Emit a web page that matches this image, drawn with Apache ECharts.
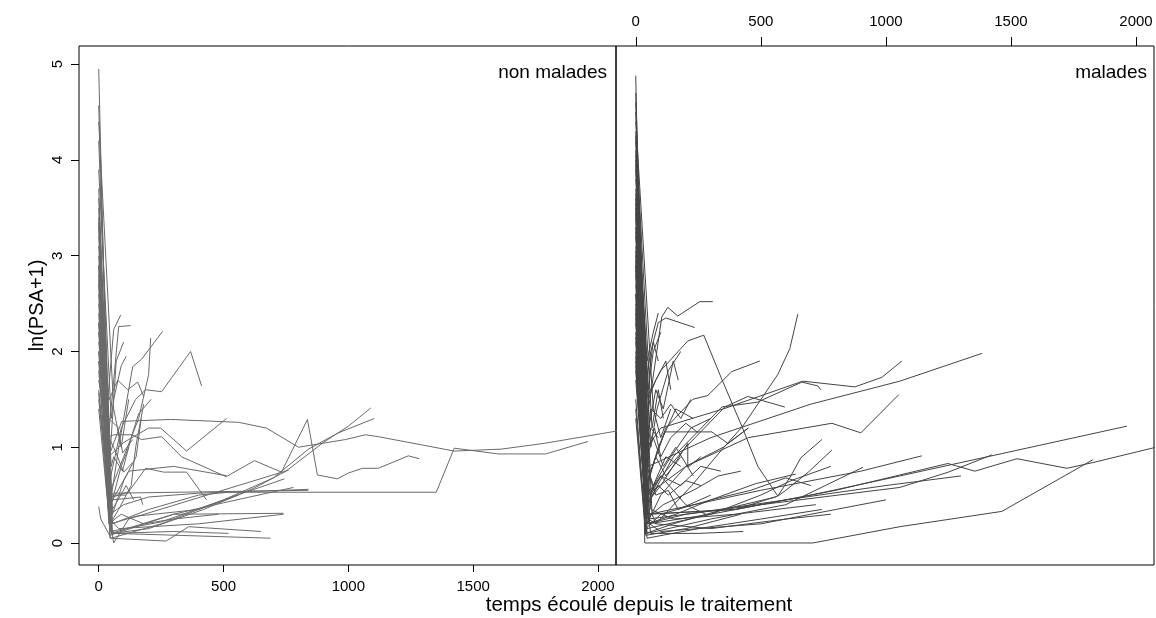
<!DOCTYPE html>
<html>
<head>
<meta charset="utf-8">
<script src="https://cdn.jsdelivr.net/npm/echarts@6/dist/echarts.min.js"></script>
<style>
html,body{margin:0;padding:0;background:#fff;}
#chart{width:1156px;height:618px;}
</style>
</head>
<body>
<div id="chart"></div>
<script>
// ---- data (x = jours depuis le traitement, y = ln(PSA+1)) ----
const panelLabels = ['non malades', 'malades'];
const xTicks = [0, 500, 1000, 1500, 2000];
const yTicks = [0, 1, 2, 3, 4, 5];
const xTitle = 'temps écoulé depuis le traitement';
const yTitle = 'ln(PSA+1)';

// one trajectory per patient, [time, ln(PSA+1)]
const nonMalades = [
  [[0,4.95],[45,0.05],[270,0.02],[360,0.17],[650,0.12]],
  [[0,4.57],[52,0.1],[200,0.15],[420,0.35],[620,0.57],[750,0.75],[900,1.05],[1000,1.22],[1090,1.41]],
  [[0,3.4],[45,0.12],[250,0.22],[500,0.45],[700,0.68],[840,0.98],[960,1.15],[1104,1.30]],
  [[0,3.3],[40,0.9],[92,1.27],[288,1.29],[560,1.26],[672,1.2],[800,1.0],[988,1.08],[1068,1.13],[1120,1.11],[1424,0.96],[1612,0.98],[1784,1.04],[2100,1.18]],
  [[0,3.1],[55,0.2],[200,0.35],[400,0.5],[520,0.53],[1352,0.53],[1424,0.99],[1600,0.93],[1790,0.93],[1960,1.06]],
  [[0,2.9],[40,0.6],[90,1.2],[148,1.5],[188,1.6],[252,1.58],[368,2.0],[412,1.64]],
  [[0,2.7],[45,0.4],[120,0.75],[300,0.8],[516,0.70],[624,0.86],[732,0.74],[836,1.29],[876,0.71],[956,0.67],[1000,0.73],[1056,0.78],[1120,0.78],[1240,0.91],[1284,0.88]],
  [[0,2.5],[40,0.9],[100,1.05],[200,1.2],[248,1.2],[352,0.96],[512,1.30]],
  [[0,2.3],[35,1.1],[60,1.13],[132,1.13],[172,1.08],[252,1.11],[332,0.9],[512,0.69]],
  [[0,2.2],[40,0.5],[110,0.5],[188,0.78],[260,0.74],[352,0.74],[432,0.45]],
  [[0,2.1],[30,1.3],[60,2.23],[88,2.38]],
  [[0,2.0],[35,1.0],[80,2.26],[128,2.27]],
  [[0,1.9],[40,0.3],[80,1.0],[136,1.84],[172,1.92],[256,2.21]],
  [[0,1.8],[40,0.5],[100,0.9],[160,1.3],[200,1.76],[208,2.14]],
  [[0,1.57],[40,0.3],[60,0.0],[120,0.25],[760,0.76]],
  [[0,0.38],[8,0.25],[50,0.05],[250,0.2],[500,0.45],[744,0.67]],
  [[0,3.5],[50,0.1],[300,0.3],[740,0.31]],
  [[0,3.0],[45,0.5],[60,0.52],[840,0.55]],
  [[0,2.8],[45,0.3],[100,0.4],[200,0.48],[400,0.52],[840,0.56]],
  [[0,2.4],[45,0.15],[68,0.1],[688,0.05]],
  [[0,2.6],[45,0.08],[300,0.3],[500,0.42],[780,0.58]],
  [[0,2.2],[40,1.49],[76,1.70],[116,1.60],[156,1.68],[180,1.53]],
  [[0,1.9],[40,1.3],[76,1.21],[96,0.94],[136,1.08]],
  [[0,1.7],[40,1.1],[60,1.0],[100,0.74],[136,0.84]],
  [[0,1.6],[40,0.55],[56,0.48],[116,0.53]],
  [[0,1.5],[45,0.4],[56,0.45],[168,0.48],[176,0.40]],
  [[0,3.6],[45,0.9],[70,1.9],[100,2.1]],
  [[0,3.9],[50,1.3],[60,1.5],[90,1.85],[110,1.95]],
  [[0,4.2],[55,0.3],[100,0.65],[150,0.9],[170,1.3]],
  [[0,2.3],[45,0.2],[80,0.35],[130,0.6],[148,1.0],[180,1.45]],
  [[0,1.4],[40,0.3],[50,0.2],[150,0.28],[400,0.35],[560,0.5]],
  [[0,2.9],[45,0.25],[80,0.15],[400,0.2],[740,0.3]],
  [[0,3.7],[55,0.1],[300,0.12],[520,0.1]],
  [[0,2.0],[45,0.35],[90,0.8],[120,1.0]],
  [[0,3.2],[50,0.8],[60,0.9],[95,0.75],[130,1.1],[160,1.35],[210,1.5]],
  [[0,2.75],[40,0.2],[90,0.3],[180,0.2],[300,0.25],[480,0.3]],
  [[0,3.35],[45,0.6],[55,0.35],[110,0.6],[140,0.45]],
  [[0,4.4],[60,1.4],[90,1.0],[120,1.5]]
];

const malades = [
  [[0,4.88],[36,0.0],[708,0.0],[1056,0.17],[1464,0.33],[1828,0.87]],
  [[0,4.6],[48,0.3],[400,0.35],[800,0.55],[1248,0.83],[1356,0.75],[1524,0.88],[1724,0.78],[1828,0.84],[2080,1.0]],
  [[0,4.3],[50,0.2],[300,0.3],[700,0.5],[1056,0.70],[1964,1.22]],
  [[0,4.0],[50,0.25],[500,0.4],[1056,0.58],[1250,0.74],[1424,0.92]],
  [[0,3.9],[55,0.3],[500,0.55],[900,0.75],[1144,0.91]],
  [[0,3.6],[50,0.8],[300,1.1],[700,1.45],[1056,1.69],[1384,1.98]],
  [[0,3.5],[45,1.0],[100,1.2],[350,1.4],[668,1.69],[876,1.63],[984,1.73],[1064,1.90]],
  [[0,3.4],[45,0.5],[200,0.8],[450,1.1],[784,1.25],[900,1.15],[1052,1.55]],
  [[0,3.3],[50,0.25],[80,0.2],[224,0.6],[288,0.8],[356,1.01],[428,1.22],[488,1.45],[568,1.76],[616,2.03],[648,2.39]],
  [[0,3.2],[40,1.5],[100,1.8],[208,2.11],[272,2.17],[344,1.71],[424,1.22],[488,0.80],[568,0.49],[600,0.55],[690,0.74],[784,0.97]],
  [[0,3.1],[40,1.2],[104,2.36],[128,2.46],[168,2.37],[256,2.52],[308,2.52]],
  [[0,2.9],[30,1.5],[60,2.0],[90,2.3],[120,2.35],[236,2.25]],
  [[0,2.8],[40,0.6],[116,1.16],[304,1.16],[368,1.04],[450,1.2]],
  [[0,2.7],[40,0.6],[120,1.2],[228,1.50],[288,1.54],[384,1.79],[496,1.90]],
  [[0,2.6],[45,0.4],[150,0.9],[344,1.42],[486,1.47],[664,1.68],[728,1.64],[740,1.60]],
  [[0,2.5],[40,0.5],[200,1.0],[356,1.42],[448,1.53],[596,1.42]],
  [[0,2.4],[45,0.1],[300,0.25],[600,0.4],[908,0.79]],
  [[0,2.3],[45,0.2],[200,0.3],[600,0.45],[1000,0.6],[1300,0.7]],
  [[0,2.2],[45,0.15],[300,0.3],[500,0.5],[620,0.65],[780,0.8]],
  [[0,2.1],[45,0.05],[250,0.15],[500,0.25],[744,0.35]],
  [[0,2.0],[40,0.4],[100,0.6],[208,1.04],[208,0.79],[260,0.9]],
  [[0,1.9],[35,0.5],[90,1.0],[160,1.4],[230,1.3]],
  [[0,1.8],[40,0.3],[70,0.6],[140,0.9],[220,1.2],[300,1.3]],
  [[0,1.7],[45,0.2],[100,0.5],[200,0.8],[350,1.0],[450,1.2]],
  [[0,1.5],[40,0.15],[100,0.3],[300,0.45],[480,0.62],[640,0.72]],
  [[0,1.4],[40,0.1],[150,0.2],[350,0.35],[560,0.48]],
  [[0,1.3],[40,0.08],[200,0.15],[420,0.3]],
  [[0,3.8],[45,1.9],[70,2.2],[90,2.4]],
  [[0,3.7],[50,1.5],[80,1.7],[120,1.9],[140,1.6]],
  [[0,3.0],[45,1.0],[60,1.4],[100,1.3],[140,1.45],[180,1.3],[220,1.5]],
  [[0,2.9],[45,0.8],[70,0.6],[120,0.9],[180,0.8]],
  [[0,4.5],[60,0.35],[150,0.25],[400,0.3],[720,0.4]],
  [[0,4.2],[65,0.3],[80,0.2],[300,0.15],[600,0.25],[780,0.3]],
  [[0,4.7],[55,0.2],[100,0.12],[500,0.2],[800,0.35],[1000,0.45]],
  [[0,3.95],[60,1.0],[85,1.4],[130,1.8],[180,2.0]],
  [[0,2.6],[45,0.3],[400,0.35],[568,0.49],[620,0.7],[660,0.89],[744,1.08]],
  [[0,3.25],[45,0.9],[70,1.1],[110,0.8],[160,1.0],[230,0.7]],
  [[0,2.45],[40,0.7],[60,0.5],[100,0.7],[150,0.55],[200,0.4],[280,0.3]],
  [[0,4.1],[55,0.7],[80,0.5],[130,0.55],[170,0.35],[300,0.5]],
  [[0,3.55],[45,0.9],[55,1.8],[70,2.1],[90,1.9]],
  [[0,1.95],[40,0.25],[110,0.4],[230,0.55],[330,0.7],[420,0.75]],
  [[0,2.85],[45,0.2],[160,0.3],[300,0.45],[460,0.55],[600,0.68],[700,0.6]],
  [[0,3.45],[45,0.35],[60,0.1],[250,0.1],[430,0.12]],
  [[0,4.4],[70,1.4],[100,1.1],[140,1.4]],
  [[0,4.25],[65,1.2],[90,1.6],[110,1.3]],
  [[0,3.65],[45,1.1],[80,1.6],[110,1.4],[150,1.9],[170,1.7]],
  [[0,2.95],[40,0.9],[75,1.2],[100,0.9],[140,1.1],[200,1.25],[250,1.15]],
  [[0,2.35],[40,0.6],[80,0.9],[120,0.7],[180,0.9]],
  [[0,3.05],[45,0.4],[90,0.6],[130,0.5],[200,0.65],[260,0.6]],
  [[0,2.15],[35,0.8],[60,1.2],[90,1.1]],
  [[0,1.85],[40,0.45],[100,0.7],[180,0.6],[260,0.8],[340,0.75]],
  [[0,4.05],[50,1.6],[70,2.0],[100,2.2]]
];

const nonMaladesColor = '#6a6a6a';
const maladesColor = '#444444';
const fontFam = '"Liberation Sans", Arial, sans-serif';

function makeSeries(list, idx, color) {
  return list.map(function (traj) {
    return {
      type: 'line', xAxisIndex: idx, yAxisIndex: idx,
      data: traj, showSymbol: false, symbol: 'none',
      lineStyle: {width: 1, color: color}, itemStyle: {color: color},
      silent: true, animation: false, clip: true, z: 2
    };
  });
}
function plain(v) { return String(v); }

const chart = echarts.init(document.getElementById('chart'), null, {renderer: 'canvas'});
const xMin = -79, xMax = 2072, yMin = -0.23, yMax = 5.19;

const option = {
  animation: false,
  backgroundColor: '#ffffff',
  textStyle: {fontFamily: fontFam},
  grid: [
    {left: 79, top: 46, width: 537, height: 519, show: true, borderColor: '#000', borderWidth: 1, backgroundColor: 'transparent', containLabel: false},
    {left: 616, top: 46, width: 538, height: 519, show: true, borderColor: '#000', borderWidth: 1, backgroundColor: 'transparent', containLabel: false}
  ],
  xAxis: [
    {gridIndex: 0, type: 'value', min: xMin, max: xMax, position: 'bottom',
     axisLine: {show: false, onZero: false}, splitLine: {show: false},
     axisTick: {show: true, inside: false, length: 7, customValues: xTicks, lineStyle: {color: '#000', width: 1}},
     axisLabel: {show: true, customValues: xTicks, formatter: plain, fontSize: 15, color: '#000', margin: 14, fontFamily: fontFam}},
    {gridIndex: 1, type: 'value', min: xMin, max: xMax, position: 'top',
     axisLine: {show: false, onZero: false}, splitLine: {show: false},
     axisTick: {show: true, inside: false, length: 9, customValues: xTicks, lineStyle: {color: '#000', width: 1}},
     axisLabel: {show: true, customValues: xTicks, formatter: plain, fontSize: 15, color: '#000', margin: 17, fontFamily: fontFam}}
  ],
  yAxis: [
    {gridIndex: 0, type: 'value', min: yMin, max: yMax, position: 'left',
     axisLine: {show: false, onZero: false}, splitLine: {show: false},
     axisTick: {show: true, inside: false, length: 8, customValues: yTicks, lineStyle: {color: '#000', width: 1}},
     axisLabel: {show: true, customValues: yTicks, formatter: plain, rotate: 90, fontSize: 15, color: '#000', margin: 14, fontFamily: fontFam},
     name: yTitle, nameLocation: 'middle', nameRotate: 90, nameGap: 32,
     nameTextStyle: {fontSize: 20, color: '#000', fontFamily: fontFam}},
    {gridIndex: 1, type: 'value', min: yMin, max: yMax, position: 'left',
     axisLine: {show: false, onZero: false}, splitLine: {show: false}, axisTick: {show: false}, axisLabel: {show: false}}
  ],
  graphic: [
    {type: 'text', x: 607, y: 73, z: 10, style: {text: panelLabels[0], align: 'right', verticalAlign: 'middle', fontSize: 19, fill: '#000', fontFamily: fontFam}},
    {type: 'text', x: 1147, y: 73, z: 10, style: {text: panelLabels[1], align: 'right', verticalAlign: 'middle', fontSize: 19, fill: '#000', fontFamily: fontFam}},
    {type: 'text', x: 639, y: 605, z: 10, style: {text: xTitle, align: 'center', verticalAlign: 'middle', fontSize: 20.5, fill: '#000', fontFamily: fontFam}}
  ],
  series: makeSeries(nonMalades, 0, nonMaladesColor).concat(makeSeries(malades, 1, maladesColor))
};
chart.setOption(option);
</script>
</body>
</html>
